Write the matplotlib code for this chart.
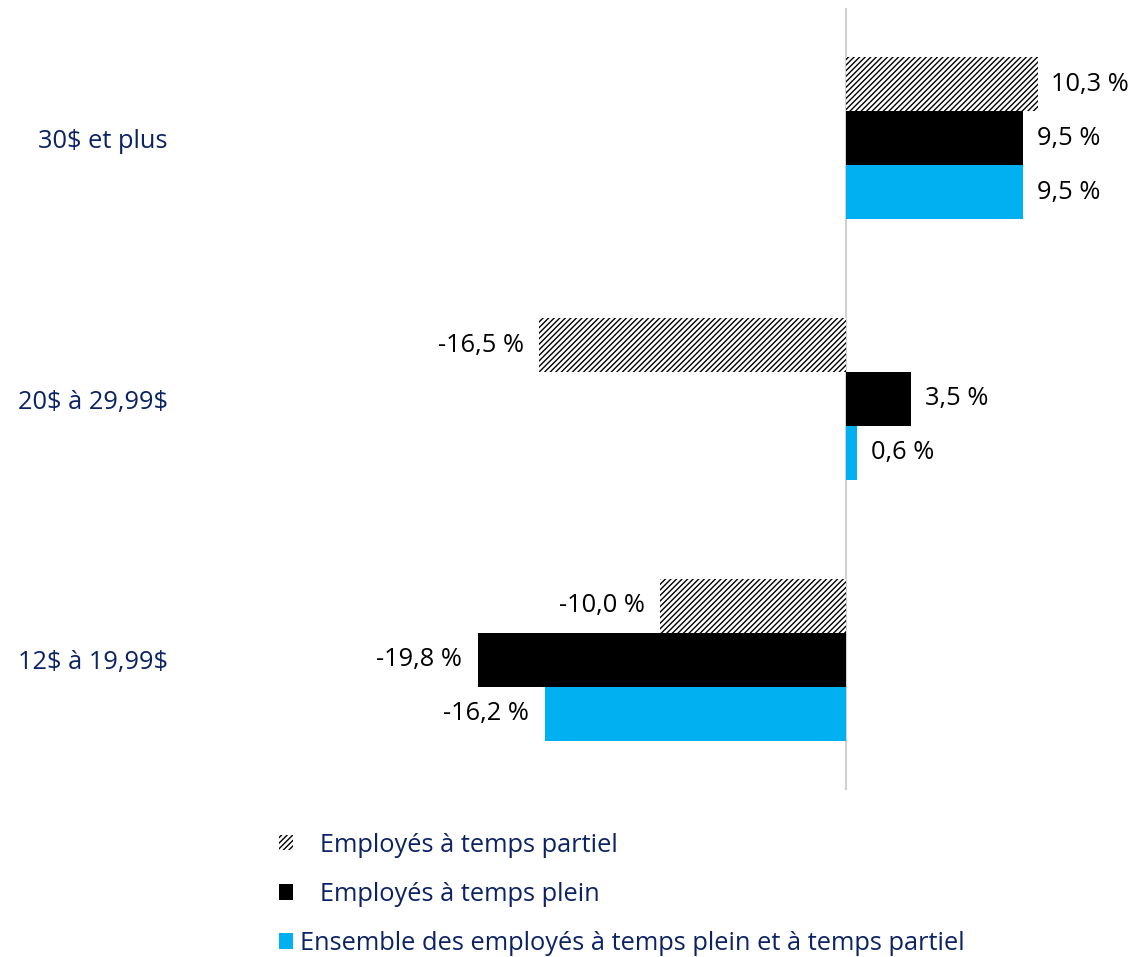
import numpy as np
import matplotlib.pyplot as plt
from matplotlib.patches import Patch

plt.rcParams['font.family'] = ['Open Sans', 'DejaVu Sans']
plt.rcParams['hatch.linewidth'] = 1.0

categories = ['12\\$ à 19,99\\$', '20\\$ à 29,99\\$', '30\\$ et plus']
partiel = [-10.0, -16.5, 10.3]
plein = [-19.8, 3.5, 9.5]
ensemble = [-16.2, 0.6, 9.5]
series_names = ['Employés à temps partiel', 'Employés à temps plein',
                'Ensemble des employés à temps plein et à temps partiel']

navy = '#0b2265'
blue = '#00b0f0'
fs = 18.3

fig = plt.figure(figsize=(11.36, 9.57), dpi=100)
ax = fig.add_axes([180 / 1136, 167 / 957, 1 - 180 / 1136, 782 / 957])

y = np.arange(len(categories))
h = 0.207

b1 = ax.barh(y + h, partiel, height=h, color='white', edgecolor='black',
             hatch='//////', linewidth=0)
b2 = ax.barh(y, plein, height=h, color='black', linewidth=0)
b3 = ax.barh(y - h, ensemble, height=h, color=blue, linewidth=0)

for bars, vals in [(b1, partiel), (b2, plein), (b3, ensemble)]:
    for bar, v in zip(bars, vals):
        txt = f'{v:.1f}'.replace('.', ',') + ' %'
        cy = bar.get_y() + bar.get_height() / 2
        if v >= 0:
            ax.annotate(txt, (v, cy), xytext=(10, 0), textcoords='offset points',
                        ha='left', va='center', fontsize=fs, color='black')
        else:
            ax.annotate(txt, (v, cy), xytext=(-11, 0), textcoords='offset points',
                        ha='right', va='center', fontsize=fs, color='black')

ax.axvline(0, color='#d0d0d0', linewidth=1.5, zorder=0)
ax.set_xlim(-35.8, 15.59)
ax.set_ylim(-0.5, 2.5)
ax.set_yticks(y)
ax.set_yticklabels(categories, fontsize=fs, color=navy)
ax.tick_params(axis='y', length=0, pad=9)
ax.set_xticks([])
for s in ax.spines.values():
    s.set_visible(False)

handles = [Patch(facecolor='white', edgecolor='black', hatch='//////', linewidth=0),
           Patch(facecolor='black', linewidth=0),
           Patch(facecolor=blue, linewidth=0)]
labels = ['   ' + series_names[0], '   ' + series_names[1], series_names[2]]
leg = fig.legend(handles, labels, loc='upper left', bbox_to_anchor=(266 / 1136, 1 - 820 / 957),
                 frameon=False, fontsize=fs, handlelength=0.55, handleheight=0.55,
                 handletextpad=0.3, labelspacing=0.95, borderpad=0)
for t in leg.get_texts():
    t.set_color(navy)

fig.savefig('out.png', dpi=100)
